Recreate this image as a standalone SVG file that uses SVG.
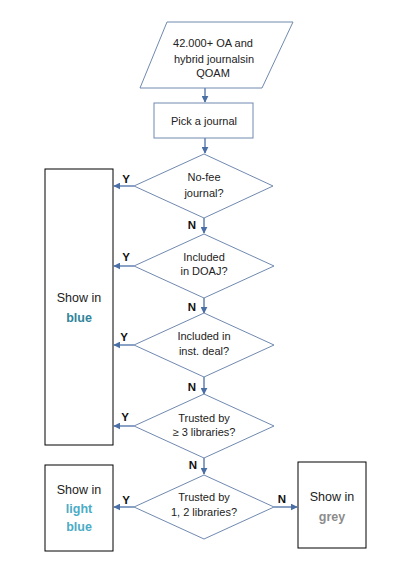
<svg xmlns="http://www.w3.org/2000/svg" width="402" height="583" viewBox="0 0 402 583">
<style>
.shape{fill:#fff;stroke:#7089b0;stroke-width:1}
.box{fill:#fff;stroke:#000;stroke-width:1}
.conn{stroke:#4a6fa5;stroke-width:1.3;fill:none;marker-end:url(#ah)}
text{font-family:"Liberation Sans",Arial,sans-serif;font-size:11px;fill:#222;text-anchor:middle}
.lbl{font-weight:bold;font-size:11.5px;fill:#111}
.big{font-size:12.5px}
.b{font-weight:bold;font-size:12.5px}
</style>
<defs>
<marker id="ah" viewBox="0 0 10 10" refX="9" refY="5" markerWidth="7" markerHeight="7" markerUnits="userSpaceOnUse" orient="auto">
<path d="M0,0 L10,5 L0,10 z" fill="#4a6fa5"/>
</marker>
</defs>
<rect width="402" height="583" fill="#fff"/>
<g id="connectors">
<line class="conn" x1="205" y1="88" x2="205" y2="102"/>
<line class="conn" x1="205" y1="138" x2="205" y2="153"/>
<line class="conn" x1="134" y1="186" x2="114" y2="186"/>
<line class="conn" x1="204" y1="218" x2="204" y2="233"/>
<line class="conn" x1="134" y1="266" x2="114" y2="266"/>
<line class="conn" x1="204" y1="298" x2="204" y2="313"/>
<line class="conn" x1="134" y1="345" x2="114" y2="345"/>
<line class="conn" x1="204" y1="377" x2="204" y2="394"/>
<line class="conn" x1="134" y1="426" x2="114" y2="426"/>
<line class="conn" x1="204" y1="458" x2="204" y2="474"/>
<line class="conn" x1="134" y1="507" x2="114" y2="507"/>
<line class="conn" x1="274" y1="507" x2="297" y2="507"/>
<text class="lbl" x="126" y="183">Y</text>
<text class="lbl" x="192" y="229">N</text>
<text class="lbl" x="126" y="261">Y</text>
<text class="lbl" x="192" y="311">N</text>
<text class="lbl" x="124" y="341">Y</text>
<text class="lbl" x="192" y="391">N</text>
<text class="lbl" x="125" y="421">Y</text>
<text class="lbl" x="193" y="469">N</text>
<text class="lbl" x="126" y="504">Y</text>
<text class="lbl" x="282" y="503">N</text>
</g>
<g id="start">
<polygon class="shape" points="167,22 293,22 262,88 140,88"/>
<text x="213" y="47">42.000+ OA and</text>
<text x="214" y="63">hybrid journalsin</text>
<text x="213" y="77">QOAM</text>
</g>
<g id="pick">
<rect class="shape" x="154" y="103" width="99" height="35"/>
<text x="204" y="125">Pick a journal</text>
</g>
<g id="d1">
<polygon class="shape" points="204,154 273,186 204,218 134,186"/>
<text x="204" y="181">No-fee</text>
<text x="204" y="197">journal?</text>
</g>
<g id="d2">
<polygon class="shape" points="204,234 274,266 204,298 134,266"/>
<text x="204" y="261">Included</text>
<text x="204" y="275">in DOAJ?</text>
</g>
<g id="d3">
<polygon class="shape" points="204,313 274,345 204,377 134,345"/>
<text x="204" y="340">Included in</text>
<text x="204" y="355">inst. deal?</text>
</g>
<g id="d4">
<polygon class="shape" points="204,394 274,426 204,458 134,426"/>
<text x="204" y="422">Trusted by</text>
<text x="204" y="436">≥ 3 libraries?</text>
</g>
<g id="d5">
<polygon class="shape" points="204,475 274,507 204,539 134,507"/>
<text x="204" y="501">Trusted by</text>
<text x="204" y="516">1, 2 libraries?</text>
</g>
<g id="blue">
<rect class="box" x="45" y="169" width="68" height="276"/>
<text class="big" x="79" y="302">Show in</text>
<text class="b" x="79" y="322" style="fill:#31849b">blue</text>
</g>
<g id="lightblue">
<rect class="box" x="45" y="465" width="68" height="86"/>
<text class="big" x="79" y="494">Show in</text>
<text class="b" x="79" y="513" style="fill:#4bacc6">light</text>
<text class="b" x="79" y="531" style="fill:#4bacc6">blue</text>
</g>
<g id="grey">
<rect class="box" x="298" y="462" width="68" height="86"/>
<text class="big" x="332" y="501">Show in</text>
<text class="b" x="332" y="521" style="fill:#8c8c8c">grey</text>
</g>
</svg>
